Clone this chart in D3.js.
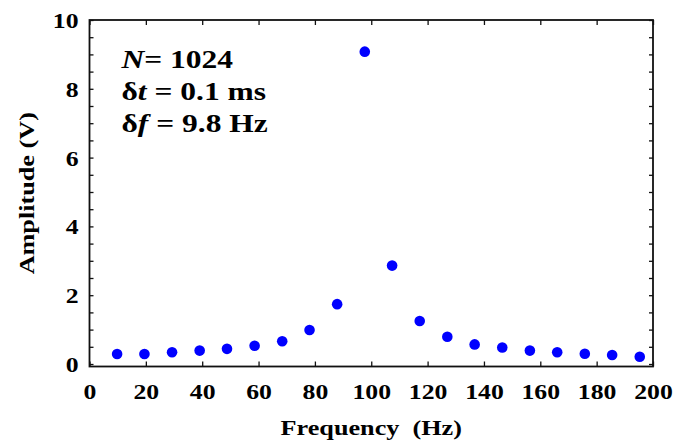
<!DOCTYPE html>
<html><head><meta charset="utf-8">
<script src="https://cdn.jsdelivr.net/npm/d3@7"></script>
<style>
html,body{margin:0;padding:0;background:#fff;}
svg text{font-family:"Liberation Serif","Times New Roman",serif;font-weight:bold;fill:#000;}
</style></head>
<body>
<svg id="chart" width="677" height="442"></svg>
<script>
const frequencies = [9.8, 19.5, 29.3, 39.1, 48.8, 58.6, 68.4, 78.1, 87.9, 97.7, 107.4, 117.2, 127.0, 136.7, 146.5, 156.3, 166.0, 175.8, 185.5, 195.3];
const amplitudes  = [0.29, 0.29, 0.34, 0.39, 0.44, 0.53, 0.66, 0.99, 1.74, 9.08, 2.86, 1.25, 0.79, 0.57, 0.48, 0.39, 0.34, 0.30, 0.26, 0.21];
const xTickValues = [0, 20, 40, 60, 80, 100, 120, 140, 160, 180, 200];
const yTickValues = [0, 2, 4, 6, 8, 10];
const yMinorTicks = d3.range(0, 10.01, 0.5);
const xLabel = "Frequency  (Hz)";
const yLabel = "Amplitude (V)";

const svg = d3.select("#chart");
const L = 89.5, R = 653, T = 20, B = 366.5;
const x = d3.scaleLinear().domain([0, 200]).range([L, R]);
const y = d3.scaleLinear().domain([0, 10]).range([364, T]);
const SX = 1.17;

// frame
svg.append("rect").attr("x", L).attr("y", T).attr("width", R - L).attr("height", B - T)
  .attr("fill", "none").attr("stroke", "#111").attr("stroke-width", 1.8);

function styleAxis(g) {
  g.select(".domain").remove();
  g.selectAll(".tick line").attr("stroke", "#111").attr("stroke-width", 1.3);
}

// bottom axis
const gx = svg.append("g").attr("transform", `translate(0,${B})`)
  .call(d3.axisBottom(x).tickValues(xTickValues).tickSize(-5).tickPadding(0).tickFormat(d3.format("d")));
styleAxis(gx);
gx.selectAll(".tick text").attr("font-size", 22).attr("y", 0).attr("dy", 0)
  .attr("transform", `translate(0,32) scale(${SX},1)`);

// top axis ticks
const gxt = svg.append("g").attr("transform", `translate(0,${T})`)
  .call(d3.axisTop(x).tickValues(xTickValues).tickSize(-5).tickFormat(""));
styleAxis(gxt);

// left axis
const gy = svg.append("g").attr("transform", `translate(${L},0)`)
  .call(d3.axisLeft(y).tickValues(yMinorTicks).tickSize(-4)
    .tickFormat(d => (yTickValues.includes(d) ? d3.format("d")(d) : "")));
styleAxis(gy);
gy.selectAll(".tick text").attr("font-size", 22).attr("x", 0).attr("dy", "0.34em")
  .attr("text-anchor", "end").attr("transform", `translate(-11,0) scale(${SX},1)`);

// right axis ticks
const gyr = svg.append("g").attr("transform", `translate(${R},0)`)
  .call(d3.axisRight(y).tickValues(yMinorTicks).tickSize(-4).tickFormat(""));
styleAxis(gyr);

// axis titles
svg.append("text").attr("font-size", 20).attr("text-anchor", "middle")
  .attr("transform", `translate(${(L + R) / 2},435) scale(1.31,1)`)
  .style("white-space", "pre").text(xLabel);
svg.append("text").attr("font-size", 20).attr("text-anchor", "middle")
  .attr("transform", `translate(34,${(T + B) / 2}) rotate(-90) scale(1.31,1)`)
  .text(yLabel);

// points
svg.append("g").selectAll("circle").data(frequencies).join("circle")
  .attr("cx", (d) => x(d)).attr("cy", (d, i) => y(amplitudes[i])).attr("r", 5.3)
  .attr("fill", "#0000ff");

// annotation
const notes = [
  [["N", true], ["= 1024", false]],
  [["δ", false], ["t", true], [" = 0.1 ms", false]],
  [["δ", false], ["f", true], [" = 9.8 Hz", false]]
];
notes.forEach((parts, i) => {
  const t = svg.append("text").attr("font-size", 25)
    .attr("transform", `translate(121.5,${67.7 + i * 32}) scale(1.26,1)`)
    .style("white-space", "pre");
  parts.forEach(([s, it]) => t.append("tspan").attr("font-style", it ? "italic" : "normal").text(s));
});
</script>
</body></html>
